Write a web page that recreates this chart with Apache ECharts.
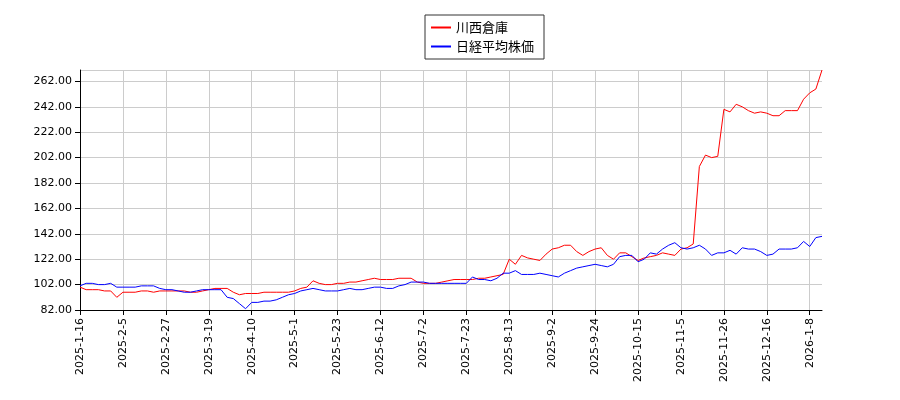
<!DOCTYPE html>
<html lang="ja">
<head>
    <meta charset="UTF-8">
    <title>川西倉庫と日経平均株価</title>
    <script src="https://cdn.jsdelivr.net/npm/echarts@6/dist/echarts.min.js"></script>
    <style>body{margin:0;background:#fff}</style>
</head>
<body>
<div id="main" style="width:900px;height:400px;"></div>
<script type="text/javascript">
    // tick dates, one every 14 trading days (one category per 2 trading days)
    var tickLabels = ['2025-1-16','2025-2-5','2025-2-27','2025-3-19','2025-4-10','2025-5-1','2025-5-23','2025-6-12',
        '2025-7-2','2025-7-23','2025-8-13','2025-9-2','2025-9-24','2025-10-15','2025-11-5','2025-11-26','2025-12-16','2026-1-8'];
    var kawanishi = [
        100,98,98,98,97,97,92,
        96,96,96,97,97,96,97,
        97,97,97,97,96,96,97,
        98,99,99,99,96,94,95,
        95,95,96,96,96,96,96,
        97,99,100,105,103,102,102,
        103,103,104,104,105,106,107,
        106,106,106,107,107,107,104,
        103,103,103,104,105,106,106,
        106,106,107,107,108,109,110,
        122,118,125,123,122,121,126,
        130,131,133,133,128,125,128,
        130,131,125,122,127,127,124,
        121,123,124,125,127,126,125,
        130,131,134,195,204,202,203,
        240,238,244,242,239,237,238,
        237,235,235,239,239,239,248,
        253,256,271
    ];
    var nikkei = [
        101,103,103,102,102,103,100,
        100,100,100,101,101,101,99,
        98,98,97,96,96,97,98,
        98,98,98,92,91,87,83,
        88,88,89,89,90,92,94,
        95,97,98,99,98,97,97,
        97,98,99,98,98,99,100,
        100,99,99,101,102,104,104,
        104,103,103,103,103,103,103,
        103,108,106,106,105,107,111,
        111,113,110,110,110,111,110,
        109,108,111,113,115,116,117,
        118,117,116,118,124,125,125,
        120,122,127,126,130,133,135,
        131,130,131,133,130,125,127,
        127,129,126,131,130,130,128,
        125,126,130,130,130,131,136,
        132,139,140
    ];
    var categories = [];
    tickLabels.forEach(function (t, i) {
        var n = i < tickLabels.length - 1 ? 7 : 3;
        for (var k = 0; k < n; k++) categories.push(k === 0 ? t : t + '#' + k);
    });

    var myChart = echarts.init(document.getElementById('main'));
    var option = {
        animation: false,
        legend: {
            top: 15,
            left: 425,
            orient: 'vertical',
            padding: [6, 10, 6, 6],
            itemGap: 6,
            borderColor: '#333',
            borderWidth: 1,
            itemWidth: 20,
            itemHeight: 2,
            textStyle: {fontFamily: 'Noto Sans CJK JP', fontSize: 13, color: '#000'},
            data: [{name: '川西倉庫', icon: 'rect'}, {name: '日経平均株価', icon: 'rect'}]
        },
        grid: {left: 80, right: 78, top: 70, bottom: 90},
        xAxis: {
            type: 'category',
            boundaryGap: false,
            data: categories,
            axisLine: {lineStyle: {color: '#000'}},
            axisTick: {interval: 6, lineStyle: {color: '#000'}},
            axisLabel: {
                interval: 6, rotate: 90, color: '#000', fontSize: 11,
                fontFamily: 'DejaVu Sans',
                formatter: function (v) { return v.indexOf('#') < 0 ? v : ''; }
            },
            splitLine: {show: true, interval: 6, lineStyle: {color: '#ccc'}}
        },
        yAxis: {
            type: 'value',
            min: 82,
            max: 271,
            interval: 20,
            axisLine: {show: true, lineStyle: {color: '#000'}},
            axisTick: {show: true, lineStyle: {color: '#000'}},
            axisLabel: {color: '#000', fontSize: 11, fontFamily: 'DejaVu Sans', showMaxLabel: false,
                formatter: function (v) { return v.toFixed(2); }},
            splitLine: {lineStyle: {color: '#ccc'}}
        },
        series: [
            {name: '川西倉庫', type: 'line', data: kawanishi, showSymbol: false,
                lineStyle: {color: '#ff0000', width: 1}, itemStyle: {color: '#ff0000'}},
            {name: '日経平均株価', type: 'line', data: nikkei, showSymbol: false,
                lineStyle: {color: '#0000ff', width: 1}, itemStyle: {color: '#0000ff'}}
        ]
    };
    myChart.setOption(option);
</script>
</body>
</html>
